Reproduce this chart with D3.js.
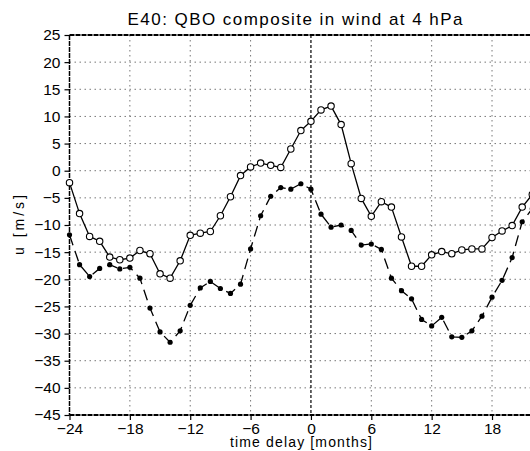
<!DOCTYPE html>
<html>
<head>
<meta charset="utf-8">
<script src="https://cdn.jsdelivr.net/npm/d3@7"></script>
<style>
  body { margin: 0; background: #fff; }
  svg { display: block; }
  text { font-family: "Liberation Sans", Arial, sans-serif; fill: #000; }
</style>
</head>
<body>
<div id="chart"></div>
<script>
// months of lag, one point per month
var months = d3.range(-24, 23)

// open circles, solid line
var solidVals = [-2.2, -7.9, -12.1, -13.0, -15.9, -16.4, -16.1, -14.7, -15.3, -19.0,
  -19.8, -16.6, -11.9, -11.5, -11.2, -8.3, -4.8, -0.9, 0.7, 1.4,
  1.0, 0.6, 4.0, 7.4, 9.1, 11.2, 11.9, 8.5, 1.3, -5.1,
  -8.4, -5.7, -6.7, -12.2, -17.6, -17.6, -15.5, -14.9, -15.3, -14.6,
  -14.4, -14.4, -12.3, -11.1, -10.1, -6.7, -4.4]

// filled circles, dashed line
var dashedVals = [-11.8, -17.3, -19.5, -18.0, -17.3, -18.1, -17.8, -19.8, -25.3, -29.7,
  -31.6, -29.5, -24.8, -21.6, -20.4, -21.7, -22.6, -20.9, -14.4, -8.3,
  -4.7, -3.1, -3.4, -2.4, -3.4, -8.0, -10.4, -10.0, -11.0, -13.7,
  -13.5, -14.5, -19.8, -22.1, -23.6, -27.4, -28.6, -27.0, -30.6, -30.7,
  -29.5, -26.8, -23.3, -20.2, -16.0, -9.4, -7.0]

var xTicks = [-24, -18, -12, -6, 0, 6, 12, 18]
var yTicks = d3.range(-45, 26, 5)

var width = 530, height = 451
var margin = {top: 35, left: 69.5, bottom: 415}

var x = d3.scaleLinear().domain([-24, 24]).range([margin.left, margin.left + 48 * 10.06])
var y = d3.scaleLinear().domain([-45, 25]).range([margin.bottom, margin.top])

var svg = d3.select("#chart").append("svg")
    .attr("width", width)
    .attr("height", height)

// grid
svg.append("g").selectAll("line")
    .data(yTicks.filter(function(d) { return d > -45 && d < 25 }))
    .join("line")
    .attr("x1", margin.left).attr("x2", width)
    .attr("y1", function(d) { return y(d) }).attr("y2", function(d) { return y(d) })
    .attr("stroke", "#777").attr("stroke-width", 1).attr("stroke-dasharray", "1.5,3.5")

svg.append("g").selectAll("line")
    .data(xTicks.filter(function(d) { return d != -24 && d != 0 }))
    .join("line")
    .attr("x1", function(d) { return x(d) }).attr("x2", function(d) { return x(d) })
    .attr("y1", margin.top).attr("y2", margin.bottom)
    .attr("stroke", "#777").attr("stroke-width", 1).attr("stroke-dasharray", "1.5,3.5")

// zero line
svg.append("line")
    .attr("x1", x(0)).attr("x2", x(0))
    .attr("y1", margin.top).attr("y2", margin.bottom)
    .attr("stroke", "#000").attr("stroke-width", 1.2).attr("stroke-dasharray", "3,2")

// axes
var xAxis = d3.axisBottom(x).tickValues(xTicks).tickSize(5).tickSizeInner(5)
    .tickFormat(function(d) { return d < 0 ? "\u2212" + Math.abs(d) : d })
var yAxis = d3.axisLeft(y).tickValues(yTicks).tickSize(5)
    .tickFormat(function(d) { return d < 0 ? "\u2212" + Math.abs(d) : d })

var gx = svg.append("g").attr("transform", "translate(0," + margin.bottom + ")").call(xAxis)
var gy = svg.append("g").attr("transform", "translate(" + margin.left + ",0)").call(yAxis)

;[gx, gy].forEach(function(g) {
  g.select(".domain").remove()
  g.selectAll(".tick line").attr("stroke", "#000").attr("stroke-width", 1.2)
  g.selectAll(".tick text").attr("font-size", 15.5).attr("fill", "#000")
    .attr("font-family", "Liberation Sans, Arial, sans-serif")
})
gx.selectAll(".tick text").attr("dy", "0.71em").attr("y", 8)
gy.selectAll(".tick text").attr("x", -9)

// frame
svg.append("line").attr("x1", margin.left).attr("x2", width)
    .attr("y1", margin.top).attr("y2", margin.top)
    .attr("stroke", "#000").attr("stroke-width", 2).attr("stroke-dasharray", "5,1")
svg.append("line").attr("x1", margin.left).attr("x2", width)
    .attr("y1", margin.bottom).attr("y2", margin.bottom)
    .attr("stroke", "#000").attr("stroke-width", 2).attr("stroke-dasharray", "5,1")
svg.append("line").attr("x1", margin.left).attr("x2", margin.left)
    .attr("y1", margin.top).attr("y2", margin.bottom)
    .attr("stroke", "#000").attr("stroke-width", 1.5).attr("stroke-dasharray", "5,1")

var line = d3.line().x(function(d) { return x(d[0]) }).y(function(d) { return y(d[1]) })

var solidData = d3.zip(months, solidVals)
var dashedData = d3.zip(months, dashedVals)

svg.append("path").datum(dashedData)
    .attr("d", line).attr("fill", "none")
    .attr("stroke", "#000").attr("stroke-width", 1.3).attr("stroke-dasharray", "11,6")

svg.append("g").selectAll("circle").data(dashedData).join("circle")
    .attr("cx", function(d) { return x(d[0]) }).attr("cy", function(d) { return y(d[1]) })
    .attr("r", 2.6).attr("fill", "#000")

svg.append("path").datum(solidData)
    .attr("d", line).attr("fill", "none")
    .attr("stroke", "#000").attr("stroke-width", 1.3)

svg.append("g").selectAll("circle").data(solidData).join("circle")
    .attr("cx", function(d) { return x(d[0]) }).attr("cy", function(d) { return y(d[1]) })
    .attr("r", 3.2).attr("fill", "#fff").attr("stroke", "#000").attr("stroke-width", 1.1)

// titles
svg.append("text").attr("x", 295).attr("y", 25)
    .attr("text-anchor", "middle").attr("font-size", 17)
    .attr("textLength", 335).attr("lengthAdjust", "spacing")
    .text("E40: QBO composite in wind at 4 hPa")

svg.append("text").attr("x", 301).attr("y", 447)
    .attr("text-anchor", "middle").attr("font-size", 14)
    .attr("textLength", 142).attr("lengthAdjust", "spacing")
    .text("time delay [months]")

svg.append("text")
    .attr("transform", "translate(24,225) rotate(-90)")
    .attr("text-anchor", "middle").attr("font-size", 14)
    .attr("textLength", 60).attr("lengthAdjust", "spacing")
    .text("u [m/s]")
</script>
</body>
</html>
